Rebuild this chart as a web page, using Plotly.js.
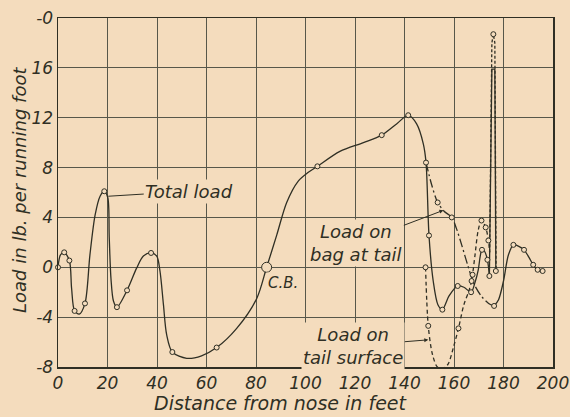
<!DOCTYPE html>
<html>
<head>
<meta charset="utf-8">
<script src="https://cdn.plot.ly/plotly-3.0.1.min.js"></script>
<style>html,body{margin:0;padding:0;background:#f4dcbd;}#chart{width:570px;height:417px;}</style>
</head>
<body>
<div id="chart"></div>
<script>
// ---- Data ----
// Total load (solid curve), nose to tail
const totalX = [0, 1, 2.5, 4.6, 5.5, 6.7, 8.6, 10.9, 12.9, 15, 17, 18.7, 20.1, 20.7, 21.4, 22.4, 23.8, 27.9, 31.8, 34.5, 37.6, 39.9, 41.2, 42.6, 43.9, 46.2, 52, 58, 64.1, 72.2, 80.3, 84.3, 88.4, 92.4, 97.0, 101.0, 104.8, 113.9, 123.4, 130.8, 136.8, 141.5, 144.9, 147.6, 148.7, 149.9, 151.6, 153.5, 155.3, 158, 161.5, 164, 166.9, 168.5, 169.8, 170.6, 171.3, 172.3, 173.5, 174.3];
const totalY = [0, 1.0, 1.2, 0.54, -1.7, -3.5, -3.76, -2.9, 1.0, 4.2, 5.7, 6.1, 5.6, 2.4, -0.9, -2.7, -3.2, -1.85, -0.05, 0.9, 1.15, 0.9, -0.3, -3.0, -5.4, -6.8, -7.3, -7.1, -6.44, -4.9, -2.5, 0, 2.6, 5.2, 6.9, 7.6, 8.1, 9.3, 10.0, 10.6, 11.5, 12.2, 11.5, 9.9, 8.4, 2.55, -1.1, -3.0, -3.4, -2.3, -1.5, -1.6, -2.0, -1.2, -0.2, 0.9, 1.4, 1.3, 0.6, -0.7];
const totalMarkX = [0, 2.5, 4.6, 6.7, 10.9, 18.7, 23.8, 27.9, 37.6, 46.2, 64.1, 104.8, 130.8, 141.5, 148.7, 149.9, 155.3, 161.5, 166.9, 171.3, 173.5, 174.3, 176.9];
const totalMarkY = [0, 1.2, 0.54, -3.5, -2.9, 6.1, -3.2, -1.85, 1.15, -6.8, -6.44, 8.1, 10.6, 12.2, 8.4, 2.55, -3.4, -1.5, -2.0, 1.4, 0.6, -0.7, -0.3];
// Concentrated load spike of the total near the tail
const totalSpikeX = [174.3, 175.3, 176.5, 176.9];
const totalSpikeY = [-0.7, 15.9, 15.9, -0.3];
// Total (= bag) aft of the spike
const aftX = [176.2, 178, 180, 182, 184, 186, 188.3, 190.3, 192, 193.8, 195.8];
const aftY = [-3.1, -2.6, -1.1, 1.0, 1.8, 1.7, 1.4, 0.8, 0.2, -0.2, -0.3];
const aftMarkX = [176.2, 184, 188.3, 192, 193.8, 195.8];
const aftMarkY = [-3.1, 1.8, 1.4, 0.2, -0.2, -0.3];
// Load on bag at tail (dash-dot)
const bagX = [148.7, 151, 153.4, 156, 159.1, 161, 163.1, 165.5, 168, 171, 174, 176.2];
const bagY = [8.4, 6.6, 5.2, 4.5, 4.0, 3.1, 1.8, 0.2, -1.3, -2.3, -2.9, -3.1];
const bagMarkX = [153.4, 159.1];
const bagMarkY = [5.2, 4.0];
// Load on tail surface (dashed)
const tailX = [148.5, 149.6, 151.3, 153.3, 155.3, 157.5, 159.8, 161.8, 164, 166, 167.1, 167.5, 168.5, 169.8, 171.1, 172.8, 173.9, 174.4];
const tailY = [0, -4.7, -7.0, -8.0, -8.1, -7.8, -6.4, -4.9, -3.0, -1.9, -1.1, -0.6, 1.0, 3.0, 3.75, 3.2, 2.15, 1.2];
const tailMarkX = [148.5, 149.6, 155.3, 161.8, 167.1, 167.5, 171.1, 172.8, 173.9];
const tailMarkY = [0, -4.7, -8.1, -4.9, -1.1, -0.6, 3.75, 3.2, 2.15];
const tailSpikeX = [174.4, 175.3, 175.9, 176.5, 177.0];
const tailSpikeY = [1.2, 18.0, 18.7, 18.0, -0.3];
// Centre of buoyancy
const cbX = [84.3];
const cbY = [0];
// Axis ticks
const xTicks = [0, 20, 40, 60, 80, 100, 120, 140, 160, 180, 200];
const xTickText = ['0', '20', '40', '60', '80', '100', '120', '140', '160', '180', '200'];
const yTicks = [-8, -4, 0, 4, 8, 12, 16, 20];
const yTickText = ['-8', '-4', '0', '4', '8', '12', '16', '-0'];

// ---- Styling ----
const PAPER = '#f4dcbd';
const INK = '#2f2f24';
const GRID = '#57574a';
const FONT = 'DejaVu Sans, Liberation Sans, sans-serif';

function line(x, y, dash, shape) {
  return {x: x, y: y, type: 'scatter', mode: 'lines', hoverinfo: 'skip',
    line: {color: INK, width: 1.3, dash: dash, shape: shape, smoothing: 0.85}};
}
function marks(x, y, size) {
  return {x: x, y: y, type: 'scatter', mode: 'markers', hoverinfo: 'skip', cliponaxis: false,
    marker: {symbol: 'circle', size: size, color: PAPER, line: {color: INK, width: 1}}};
}

const traces = [
  line(totalX, totalY, 'solid', 'spline'),
  line(totalSpikeX, totalSpikeY, 'solid', 'linear'),
  line(aftX, aftY, 'solid', 'spline'),
  line(bagX, bagY, '9px,3px,2px,3px', 'spline'),
  line(tailX, tailY, '4px,3px', 'spline'),
  line(tailSpikeX, tailSpikeY, '3px,2px', 'linear'),
  marks(totalMarkX, totalMarkY, 5),
  marks(aftMarkX, aftMarkY, 5),
  marks(bagMarkX, bagMarkY, 5),
  marks(tailMarkX, tailMarkY, 5),
  marks([tailSpikeX[2]], [tailSpikeY[2]], 5),
  marks(cbX, cbY, 10)
];

const lblFont = {family: FONT, size: 18, color: INK, style: 'italic'};

const layout = {
  width: 570, height: 417,
  margin: {l: 58, r: 17, t: 18, b: 50},
  paper_bgcolor: PAPER, plot_bgcolor: PAPER,
  showlegend: false,
  xaxis: {range: [0, 200], tickvals: xTicks, ticktext: xTickText, showgrid: true,
    gridcolor: GRID, gridwidth: 1, showline: true, mirror: true, linecolor: INK, linewidth: 1.5,
    zeroline: false, ticks: '', tickfont: {family: FONT, size: 17, color: INK, style: 'italic'}},
  yaxis: {range: [-8, 20], tickvals: yTicks, ticktext: yTickText, showgrid: true,
    gridcolor: GRID, gridwidth: 1, showline: true, mirror: true, linecolor: INK, linewidth: 1.5,
    zeroline: true, zerolinecolor: GRID, zerolinewidth: 1.2, ticks: '',
    tickfont: {family: FONT, size: 17, color: INK, style: 'italic'}},
  annotations: [
    {xref: 'paper', yref: 'paper', x: 0.4505, y: -0.102, xanchor: 'center', yanchor: 'middle',
      text: 'Distance from nose in feet', showarrow: false,
      font: {family: FONT, size: 19, color: INK, style: 'italic'}},
    {xref: 'paper', yref: 'paper', x: -0.079, y: 0.507, xanchor: 'center', yanchor: 'middle',
      text: 'Load in lb. per running foot', textangle: -90, showarrow: false,
      font: {family: FONT, size: 18, color: INK, style: 'italic'}},
    {x: 20.3, y: 5.7, ax: 81, ay: -5, text: 'Total load', showarrow: true, arrowhead: 0,
      arrowwidth: 1, arrowcolor: INK, bgcolor: PAPER, font: lblFont},
    {x: 90.9, y: -1.3, text: 'C.B.', showarrow: false, bgcolor: PAPER,
      font: {family: FONT, size: 15, color: INK, style: 'italic'}},
    {x: 155.7, y: 4.57, ax: -87, ay: 33, text: 'Load on<br>bag at tail', showarrow: true,
      arrowhead: 2, arrowsize: 0.8, arrowwidth: 1, arrowcolor: INK, bgcolor: PAPER, font: lblFont},
    {x: 149.6, y: -5.82, ax: -75, ay: 6, text: 'Load on<br>tail surface', showarrow: true,
      arrowhead: 2, arrowsize: 0.8, arrowwidth: 1, arrowcolor: INK, bgcolor: PAPER, font: lblFont}
  ]
};

Plotly.newPlot('chart', traces, layout, {staticPlot: true, displayModeBar: false});
</script>
</body>
</html>
